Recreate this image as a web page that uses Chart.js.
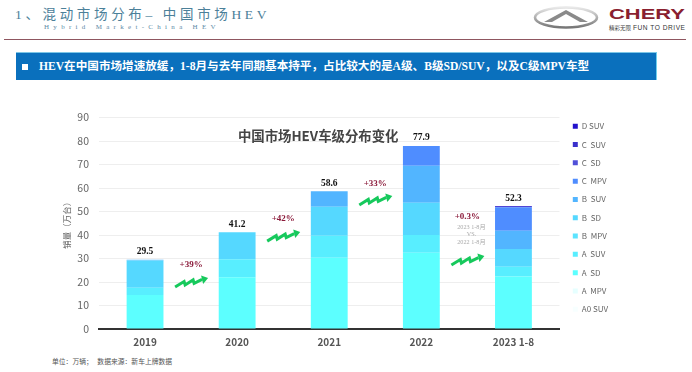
<!DOCTYPE html>
<html>
<head>
<meta charset="utf-8">
<script src="https://cdn.jsdelivr.net/npm/chart.js@4"></script>
<style>
  html, body { margin: 0; padding: 0; background: #fff; width: 692px; height: 372px; overflow: hidden; }
  body { position: relative; font-family: "Liberation Serif", "Noto Sans CJK SC", serif; }
  #chart { position: absolute; left: 0; top: 85px; }
  .abs { position: absolute; white-space: nowrap; }
  #head1 { left: 15px; top: 3px; font-size: 13.5px; letter-spacing: 3.65px; color: #4b8099; font-family: "Liberation Serif", "Noto Sans CJK SC"; }
  #head2 { left: 44px; top: 23px; font-size: 7px; line-height: 8px; letter-spacing: 4.3px; color: #5d8aa6; }
  #rule { left: 4px; top: 39px; width: 682px; height: 1px; background: #8f5660; }
  #banner { left: 16px; top: 52px; width: 640px; height: 27px; background: #0a70bd; border-right: 1px solid #6fd0ee; border-top: 1px solid #7cc6e6; color: #fff; font-weight: bold; font-size: 11.6px; line-height: 27px; }
  #banner i { position: absolute; left: 6px; top: 11px; width: 6px; height: 6px; background: #fff; }
  #banner span { position: absolute; left: 23px; }
  #note { left: 52px; top: 356px; font-size: 6.8px; color: #555; font-family: "Noto Sans CJK SC"; }
  #logo { left: 530px; top: 3px; }
</style>
</head>
<body>
<div class="abs" id="head1">1、混动市场分布– 中国市场HEV</div>
<div class="abs" id="head2">Hybrid Market-China HEV</div>
<div class="abs" id="rule"></div>
<div class="abs" id="banner"><i></i><span>HEV在中国市场增速放缓，1-8月与去年同期基本持平，占比较大的是A级、B级SD/SUV，以及C级MPV车型</span></div>
<svg class="abs" id="logo" width="160" height="30" viewBox="0 0 160 30">
  <defs><linearGradient id="silver" x1="0" y1="0" x2="0" y2="1"><stop offset="0" stop-color="#e8e8e8"/><stop offset="1" stop-color="#777"/></linearGradient></defs>
  <ellipse cx="36" cy="14.5" rx="31" ry="10" fill="none" stroke="url(#silver)" stroke-width="2.6"/>
  <path d="M14 19 L36 7 L58 19 L50 19 L36 11 L22 19 Z" fill="#8a8a8a"/>
  <text x="79" y="16" font-family="Liberation Sans" font-weight="bold" font-size="14.5" textLength="76" lengthAdjust="spacingAndGlyphs" fill="#8a1f30">CHERY</text>
  <text x="79" y="26.5" font-family="Noto Sans CJK SC" font-size="5.5" fill="#444">精彩无限</text>
  <text x="103" y="26.5" font-family="Liberation Sans" font-size="6.6" textLength="52" fill="#333">FUN TO DRIVE</text>
</svg>
<canvas id="chart" width="692" height="265"></canvas>
<div class="abs" id="note">单位：万辆；&nbsp;&nbsp;&nbsp;数据来源：新车上牌数据</div>
<script>
const categories = ["2019", "2020", "2021", "2022", "2023 1-8"];
const totals = [29.5, 41.2, 58.6, 77.9, 52.3];
const tickLabels = [0, 10, 20, 30, 40, 50, 60, 70, 80, 90];

const a0Suv = [0, 0, 0, 0, 0];
const aMpv = [0, 0, 0, 0, 0];
const aSd = [14.5, 22, 30.3, 32.5, 22.3];
const aSuv = [3.1, 7.7, 9.4, 7.5, 4.2];
const bMpv = [0, 0, 0, 0, 0];
const bSd = [11.5, 11.5, 12.3, 13.7, 7.5];
const bSuv = [0.4, 0, 6.6, 15.8, 7.8];
const cMpv = [0, 0, 0, 8.4, 10];
const cSd = [0, 0, 0, 0, 0];
const cSuv = [0, 0, 0, 0, 0.2];
const dSuv = [0, 0, 0, 0, 0.3];

// growth notes between the bars: [category position, value]
const growthLabels = ["+39%", "+42%", "+33%", "+0.3%"];
const growthSpots = [[0.5, 27.2], [1.5, 46.8], [2.5, 61.7], [3.5, 47.7]];
const arrowSpots = [[0.5, 17.9], [1.5, 37.4], [2.5, 52.8], [3.5, 27.2]];
const compareLines = ["2023 1-8月", "VS.", "2022 1-8月"];

const serif = '"Liberation Serif", "Noto Sans CJK SC"';
const sans = '"Noto Sans CJK SC", "Noto Sans"';

const notesPlugin = {
  id: "notes",
  // the legend sits closer to the plot and higher than the default centred spot
  afterLayout(chart) {
    chart.legend.left += 3;
    chart.legend.right += 3;
    chart.legend.top -= 16;
    chart.legend.bottom -= 16;
  },
  afterDatasetsDraw(chart) {
    const ctx = chart.ctx;
    const x = chart.scales.x;
    const y = chart.scales.y;
    ctx.save();
    ctx.textAlign = "center";
    ctx.textBaseline = "middle";

    ctx.fillStyle = "#444";
    ctx.font = "bold 13.4px " + sans;
    ctx.fillText("中国市场HEV车级分布变化", x.getPixelForValue(1.88), y.getPixelForValue(82.2));

    ctx.fillStyle = "#111";
    ctx.font = "bold 9.5px " + serif;
    totals.forEach((t, i) => {
      ctx.fillText(t.toFixed(1), x.getPixelForValue(i), y.getPixelForValue(t) - 8);
    });

    ctx.fillStyle = "#8b1a3a";
    ctx.font = "bold 9px " + serif;
    growthLabels.forEach((g, i) => {
      ctx.fillText(g, x.getPixelForValue(growthSpots[i][0]), y.getPixelForValue(growthSpots[i][1]));
    });

    ctx.fillStyle = "#aaa";
    ctx.font = "6.2px " + serif;
    const last = growthSpots[3];
    compareLines.forEach((c, i) => {
      ctx.fillText(c, x.getPixelForValue(last[0]) + 4, y.getPixelForValue(last[1]) + 10 + i * 7.5);
    });

    arrowSpots.forEach(s => {
      const ax = x.getPixelForValue(s[0]) - 16;
      const ay = y.getPixelForValue(s[1]);
      ctx.strokeStyle = "#16c95c";
      ctx.fillStyle = "#16c95c";
      ctx.lineWidth = 3;
      ctx.lineJoin = "miter";
      ctx.beginPath();
      ctx.moveTo(ax, ay);
      ctx.lineTo(ax + 9, ay - 5.5);
      ctx.lineTo(ax + 10, ay - 2);
      ctx.lineTo(ax + 18, ay - 7);
      ctx.lineTo(ax + 19, ay - 3.5);
      ctx.lineTo(ax + 27, ay - 7.5);
      ctx.stroke();
      ctx.beginPath();
      ctx.moveTo(ax + 33, ay - 9);
      ctx.lineTo(ax + 26, ay - 11.5);
      ctx.lineTo(ax + 28, ay - 3);
      ctx.closePath();
      ctx.fill();
    });
    ctx.restore();
  }
};

function makeSet(label, data, color) {
  return { label: label, data: data, backgroundColor: color, stack: "all", barPercentage: 0.8, categoryPercentage: 0.5 };
}

// stacking order bottom to top, legend is shown reversed
const ctx = document.getElementById("chart").getContext("2d");
const myChart = new Chart(ctx, {
  type: "bar",
  data: {
    labels: categories,
    datasets: [
      makeSet("A0 SUV", a0Suv, "#f7ffff"),
      makeSet("A  MPV", aMpv, "#e6ffff"),
      makeSet("A  SD", aSd, "#5cffff"),
      makeSet("A  SUV", aSuv, "#58eeff"),
      makeSet("B  MPV", bMpv, "#5ce4ff"),
      makeSet("B  SD", bSd, "#55d8ff"),
      makeSet("B  SUV", bSuv, "#52b5ff"),
      makeSet("C  MPV", cMpv, "#4f8dff"),
      makeSet("C  SD", cSd, "#5050d8"),
      makeSet("C  SUV", cSuv, "#3a30cc"),
      makeSet("D SUV", dSuv, "#2211cc")
    ]
  },
  options: {
    responsive: false,
    animation: false,
    layout: { padding: { left: 60, right: 77, top: 32.5, bottom: 0 } },
    plugins: {
      legend: {
        position: "right",
        reverse: true,
        labels: {
          boxWidth: 5,
          boxHeight: 5,
          padding: 10.3,
          color: "#666",
          font: { size: 8, family: sans }
        }
      },
      tooltip: { enabled: false }
    },
    scales: {
      x: {
        stacked: true,
        grid: { display: false, drawTicks: false },
        border: { color: "#333", width: 2 },
        ticks: { color: "#555", padding: 7, font: { size: 10, weight: "bold", family: sans } },
        afterFit(scale) { scale.height = 21; }
      },
      y: {
        stacked: true,
        min: 0,
        max: 90,
        afterBuildTicks(scale) { scale.ticks = tickLabels.map(v => ({ value: v })); },
        grid: { color: "#eeeeee", drawTicks: false },
        border: { display: false },
        ticks: { color: "#666", padding: 10, font: { size: 10.5, family: sans } },
        title: { display: true, text: "销量（万台）", color: "#666", padding: { top: 2, bottom: 0 }, font: { size: 8.5, family: sans } },
        afterFit(scale) { scale.width = 39; }
      }
    }
  },
  plugins: [notesPlugin]
});
</script>
</body>
</html>
